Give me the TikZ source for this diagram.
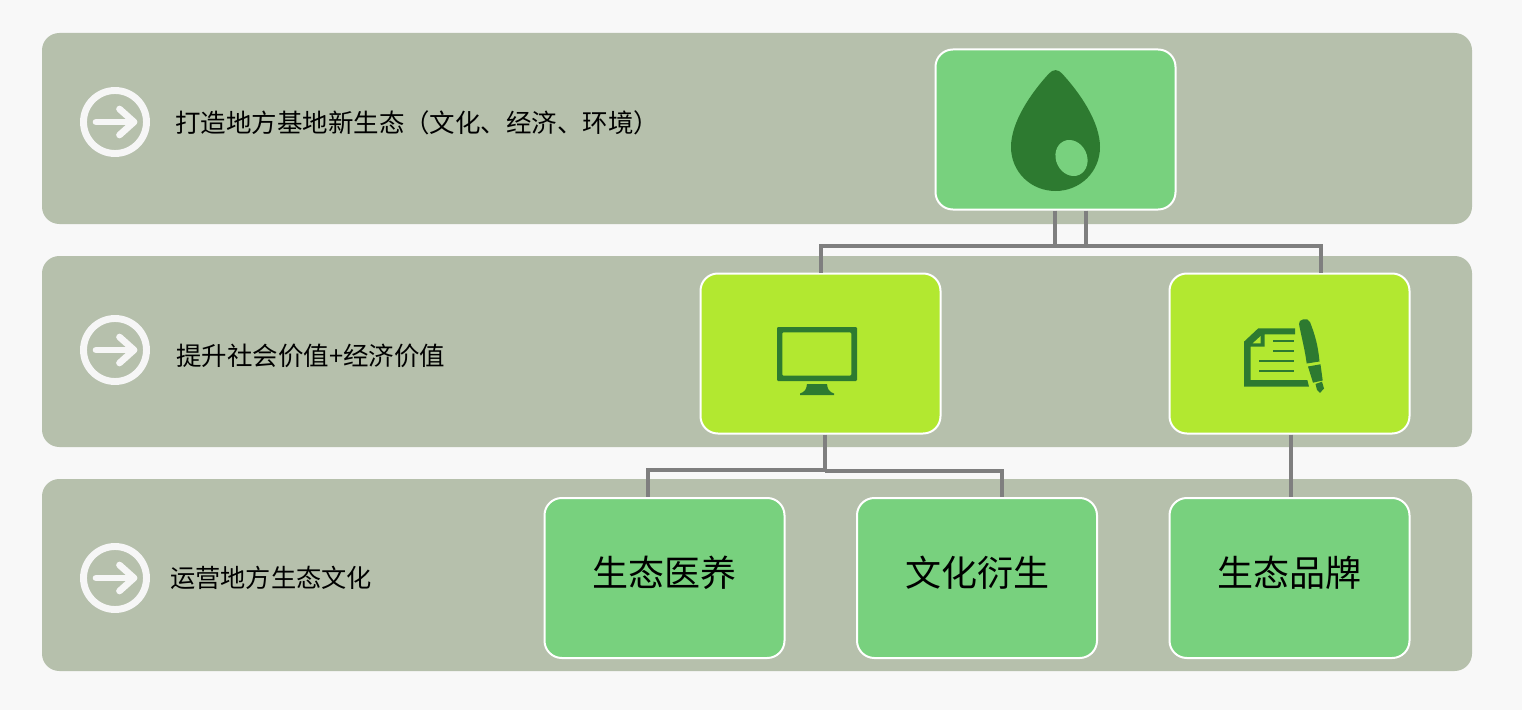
\documentclass[tikz,border=0pt]{standalone}
\usepackage{fontspec}
\setmainfont{Noto Sans CJK SC}
\definecolor{pagebg}{HTML}{F8F8F8}
\definecolor{band}{HTML}{B6C0AC}
\definecolor{leaf}{HTML}{78D17E}
\definecolor{lime}{HTML}{B2E830}
\definecolor{dark}{HTML}{2D7A30}
\definecolor{wire}{HTML}{7F7F7F}
\definecolor{ring}{HTML}{F6F6F6}
\newcommand{\cardtext}[1]{\raisebox{-6.5pt}[0pt][0pt]{#1}}
\tikzset{
  bandbox/.style={fill=band,draw=none,rounded corners=13pt},
  card/.style={draw=white,line width=1.5pt,rounded corners=13pt,minimum width=180pt,minimum height=120pt,inner sep=0pt,text=black},
  leafcard/.style={card,fill=leaf,font=\fontsize{27}{27}\selectfont},
  limecard/.style={card,fill=lime},
  wirestyle/.style={draw=wire,line width=3pt},
  rowlabel/.style={anchor=west,inner sep=0pt,text=black,font=\fontsize{19.1}{22}\selectfont},
  ringstyle/.style={draw=ring,line width=5.2pt},
  arrowstyle/.style={draw=ring,line width=5pt,line cap=round,line join=round}
}
\begin{document}
\begin{tikzpicture}[x=0.75pt,y=-0.75pt]
\path[use as bounding box,fill=pagebg] (0,0) rectangle (1522,710);
\fill[bandbox] (42,33) rectangle (1472,224);
\fill[bandbox] (42,256) rectangle (1472,447);
\fill[bandbox] (42,479) rectangle (1472,671);

\foreach \yy in {122,350,578}{
  \draw[ringstyle] (115,\yy) circle[radius=31.5];
  \draw[arrowstyle] (96,\yy) -- (134,\yy);
  \draw[arrowstyle] (119.5,\yy-13) -- (134,\yy) -- (119.5,\yy+13);
}

\node[rowlabel] (l1) at (175,123) {打造地方基地新生态（文化、经济、环境）};
\node[rowlabel] (l2) at (176,355.5) {提升社会价值+经济价值};
\node[rowlabel] (l3) at (170,577.5) {\fontsize{18.9}{22}\selectfont 运营地方生态文化};

\node[leafcard] (top) at (1055.5,129.5) {};
\node[limecard] (mid1) at (820.5,353.5) {};
\node[limecard] (mid2) at (1289.5,353.5) {};
\node[leafcard] (b1) at (664.5,578) {\cardtext{生态医养}};
\node[leafcard] (b2) at (977,578) {\cardtext{文化衍生}};
\node[leafcard] (b3) at (1289.5,578) {\cardtext{生态品牌}};

% connectors
\draw[wirestyle] ([xshift=-0.75pt]top.south) -- ++(0,35) -| (mid1.north);
\draw[wirestyle] ([xshift=-0.75pt]top.south) ++(0,35) -- ++(31.5,0);
\draw[wirestyle] ([xshift=22.9pt]top.south) -- ++(0,35) -| ([xshift=23.6pt]mid2.north);
\draw[wirestyle] ([xshift=3pt]mid1.south) -- ++(0,35) -| ([xshift=-12.4pt]b1.north);
\draw[wirestyle] ([xshift=3pt]mid1.south) ++(0,36) -| ([xshift=18.8pt]b2.north);
\draw[wirestyle] ([xshift=0.9pt]mid2.south) -- ([xshift=0.9pt]b3.north);

% drop icon
\fill[dark] (1049,73.5) .. controls (1053,69) and (1058,69) .. (1062,73.5)
  .. controls (1080,93) and (1100,122) .. (1100,147)
  .. controls (1100,172) and (1080,191) .. (1055.5,191)
  .. controls (1031,191) and (1011,172) .. (1011,147)
  .. controls (1011,122) and (1031,93) .. (1049,73.5) -- cycle;
\fill[leaf,rotate around={25:(1071.5,158)}] (1071.5,158) ellipse[x radius=15.5,y radius=18.5];

% monitor icon
\fill[dark,even odd rule,rounded corners=0.8pt] (777,327) rectangle (857,381) (782.3,332.3) rectangle (851.3,375.7);
\fill[dark] (807,384) -- (827,384) .. controls (827.5,389) and (829,392) .. (834,393.5) -- (834,395) -- (800,395) -- (800,393.5) .. controls (805,392) and (806.5,389) .. (807,384) -- cycle;

% document and pen icon
\fill[dark] (1295,328.3) -- (1258.3,328.3) -- (1244,341.7) -- (1244,386.7) -- (1309,386.7) -- (1307.3,380) -- (1250.7,380) -- (1250.7,346.7) -- (1264.7,346.7) -- (1264.7,334.3) -- (1295,334.3) -- cycle;
\fill[lime] (1252.7,343.3) -- (1260.7,336) -- (1260.7,343.3) -- cycle;
\draw[dark,line width=1.6pt] (1273.3,340.7) -- (1294,340.7) (1273.3,350.7) -- (1294,350.7) (1259,360.7) -- (1294,360.7) (1259,371) -- (1294,371);
\fill[dark] (1299,324) .. controls (1298,319) and (1308,317) .. (1310,322)
  .. controls (1315,335) and (1318,345) .. (1319.5,361.5) -- (1306.7,363.5)
  .. controls (1305,350) and (1301,335) .. (1299,324) -- cycle;
\fill[dark] (1308,366.5) -- (1320.5,364.3) -- (1322.7,380.5) -- (1313,382.7) -- cycle;
\fill[dark] (1315.5,384) -- (1322,381.7) -- (1324,388.5) -- (1320,392.9) -- (1317,390) -- cycle;
\end{tikzpicture}
\end{document}
